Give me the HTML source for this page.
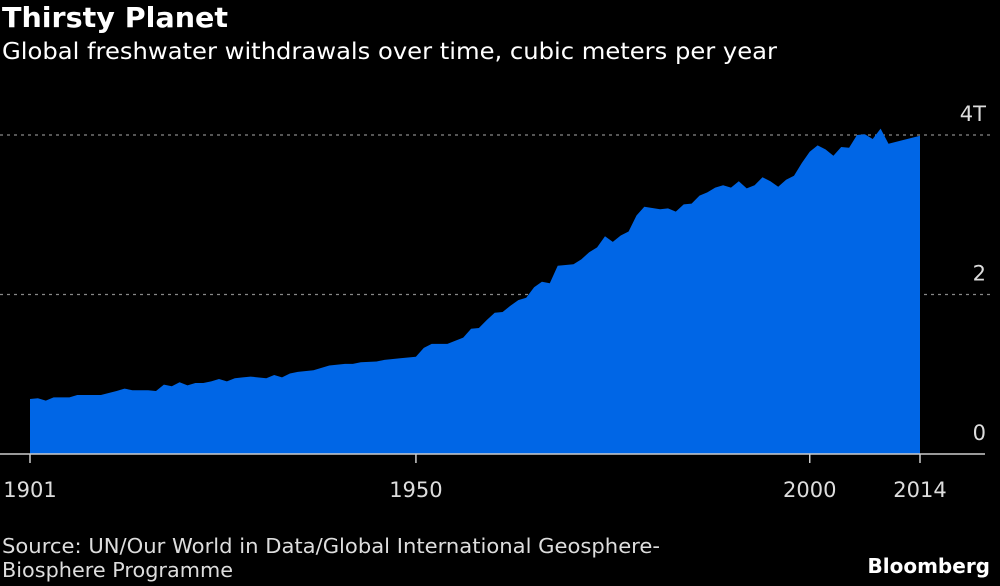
<!DOCTYPE html>
<html><head><meta charset="utf-8"><style>
body{margin:0;background:#000;width:1000px;height:582px;overflow:hidden;font-family:"DejaVu Sans","Liberation Sans",sans-serif;color:#fff}
</style></head><body>
<svg width="1000" height="582" xmlns="http://www.w3.org/2000/svg">
<text x="2" y="27" font-size="28" font-weight="bold" fill="#fff" font-family="DejaVu Sans, sans-serif" textLength="226" lengthAdjust="spacingAndGlyphs">Thirsty Planet</text>
<text x="2" y="59" font-size="23" fill="#fff" font-family="DejaVu Sans, sans-serif" textLength="775" lengthAdjust="spacingAndGlyphs">Global freshwater withdrawals over time, cubic meters per year</text>
<g id="plot"></g>
<text x="2" y="553" font-size="20" fill="#ddd" font-family="DejaVu Sans, sans-serif" textLength="658" lengthAdjust="spacingAndGlyphs">Source: UN/Our World in Data/Global International Geosphere-</text>
<text x="2" y="577" font-size="20" fill="#ddd" font-family="DejaVu Sans, sans-serif" textLength="231" lengthAdjust="spacingAndGlyphs">Biosphere Programme</text>
<text x="990" y="573" font-size="20" font-weight="bold" fill="#fff" text-anchor="end" font-family="DejaVu Sans, sans-serif">Bloomberg</text>
</svg>
<script>
const years=[1901,1902,1903,1904,1906,1907,1910,1912,1913,1914,1916,1917,1918,1919,1920,1921,1922,1923,1924,1925,1926,1927,1928,1929,1931,1932,1933,1934,1935,1937,1939,1941,1942,1943,1945,1946,1948,1950,1951,1952,1954,1956,1957,1958,1959,1960,1961,1962,1963,1964,1965,1966,1967,1968,1970,1971,1972,1973,1974,1975,1976,1977,1978,1979,1981,1982,1983,1984,1985,1986,1987,1988,1989,1990,1991,1992,1993,1994,1995,1996,1997,1998,1999,2000,2001,2002,2003,2004,2005,2006,2007,2008,2009,2010,2014];
const values=[0.69,0.70,0.67,0.71,0.71,0.74,0.74,0.79,0.82,0.80,0.80,0.79,0.87,0.85,0.90,0.86,0.89,0.89,0.91,0.94,0.91,0.95,0.96,0.97,0.95,0.99,0.96,1.01,1.03,1.05,1.11,1.13,1.13,1.15,1.16,1.18,1.20,1.22,1.33,1.38,1.38,1.46,1.57,1.58,1.68,1.77,1.78,1.86,1.93,1.96,2.09,2.16,2.14,2.36,2.38,2.44,2.53,2.59,2.73,2.66,2.74,2.79,2.99,3.10,3.07,3.08,3.04,3.13,3.14,3.24,3.28,3.34,3.37,3.34,3.42,3.33,3.37,3.47,3.42,3.35,3.44,3.49,3.65,3.79,3.87,3.82,3.74,3.85,3.84,4.00,4.01,3.95,4.08,3.89,3.99];
const yTicks=[0,2,4];
const yTickLabels=["0","2","4T"];
const xTicks=[1901,1950,2000,2014];
const NS="http://www.w3.org/2000/svg";
const x=v=>30+(v-1901)*(890/113);
const y=v=>454-v*79.75;
const g=document.getElementById('plot');
function mk(t,a){const e=document.createElementNS(NS,t);for(const k in a)e.setAttribute(k,a[k]);g.appendChild(e);return e;}
yTicks.forEach((t,i)=>{
 if(t>0){const l=mk('line',{x1:0,x2:990,y1:y(t),y2:y(t),stroke:'#888','stroke-width':1.2,'stroke-dasharray':'3,4'});
 
 }
 const tx=mk('text',{x:986,y:y(t)-14,'font-size':21,fill:'#ddd','text-anchor':'end','font-family':'DejaVu Sans, sans-serif'});
 tx.textContent=yTickLabels[i];
 
 
});
let d='M'+x(years[0])+','+y(0);
years.forEach((yr,i)=>{d+=' L'+x(yr).toFixed(1)+','+y(values[i]).toFixed(1);});
d+=' L'+x(years[years.length-1])+','+y(0)+' Z';
const area=mk('path',{d:d,fill:'#0066e6'});


const ax=mk('line',{x1:0,x2:985,y1:y(0),y2:y(0),stroke:'#ccc','stroke-width':1.5});


xTicks.forEach(t=>{
 const tk=mk('line',{x1:x(t),x2:x(t),y1:y(0),y2:y(0)+9,stroke:'#ccc','stroke-width':1.5});
 
 
 const tx=mk('text',{x:x(t),y:497,'font-size':21,fill:'#ddd','text-anchor':'middle','font-family':'DejaVu Sans, sans-serif'});
 tx.textContent=t;
 
 
});
</script>
</body></html>
